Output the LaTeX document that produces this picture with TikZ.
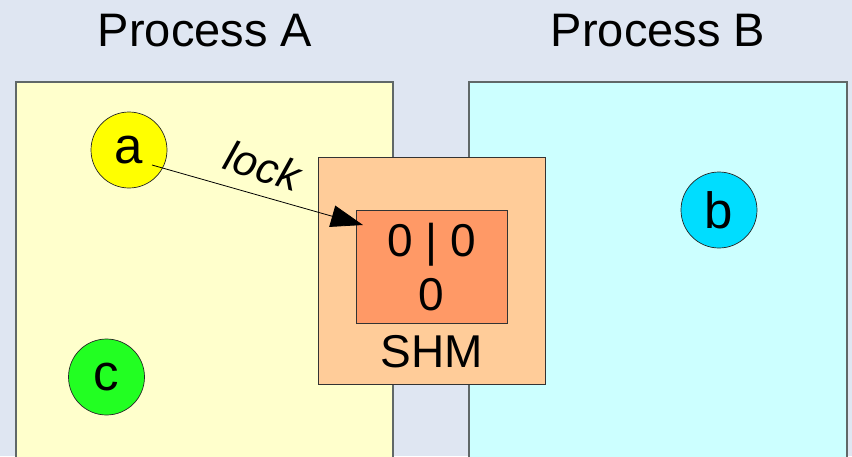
\documentclass[tikz,border=0pt]{standalone}
\usepackage{fontspec}
\setmainfont{Liberation Sans}
\usetikzlibrary{arrows.meta}

\definecolor{bgcol}{HTML}{DFE6F2}
\definecolor{procA}{HTML}{FFFFCC}
\definecolor{procB}{HTML}{CCFFFF}
\definecolor{shmouter}{HTML}{FFCC99}
\definecolor{shminner}{HTML}{FF9966}
\definecolor{nodeA}{HTML}{FFFF00}
\definecolor{nodeB}{HTML}{00DDFF}
\definecolor{nodeC}{HTML}{22FF22}
\definecolor{edgegray}{HTML}{606868}

\tikzset{
  procbox/.style={draw=edgegray, line width=1.3pt},
  shmbox/.style={draw=black!80, line width=0.8pt, rectangle, inner sep=0pt},
  proc/.style={circle, draw=black!85, line width=0.7pt, minimum size=76pt, inner sep=0pt,
    font=\fontsize{51}{51}\selectfont},
  title/.style={font=\fontsize{47}{47}\selectfont, inner sep=0pt},
  lbl/.style={font=\fontsize{46}{54}\selectfont, inner sep=0pt, align=center},
}

\begin{document}
\begin{tikzpicture}[x=1pt, y=-1pt]
  \useasboundingbox (0,0) rectangle (852,456);
  \clip (0,0) rectangle (852,456);
  \fill[bgcol] (0,0) rectangle (852,456);

  % the two process address spaces
  \draw[procbox, fill=procA] (16,470) -- (16,82) -- (393,82) -- (393,470);
  \draw[procbox, fill=procB] (469,470) -- (469,82) -- (847,82) -- (847,470);

  % titles
  \node[title] (titleA) at (205,31) {Process A};
  \node[title] (titleB) at (658,31) {Process B};

  % shared memory segment
  \node[shmbox, fill=shmouter, minimum width=227pt, minimum height=227pt] (shm) at (431.5,270.5) {};
  \node[shmbox, fill=shminner, minimum width=151pt, minimum height=113pt] (inner) at (431.5,266.5) {};
  \node[lbl] (val) at (431.5,267) {0 | 0\\0};
  \node[lbl] (shmlbl) at (431.5,352) {SHM};

  % processes
  \node[proc, fill=nodeA] (a) at (129,150) {a};
  \node[proc, fill=nodeB] (b) at (719,210) {b};
  \node[proc, fill=nodeC] (c) at (106.5,377) {c};

  % lock request from a into the shared memory
  \coordinate (lockfrom) at (152,165);
  \coordinate (lockto) at (363,225);
  \draw[line width=0.8pt, -{Triangle[length=32pt, width=22pt]}] (lockfrom) -- (lockto);
  \node[font=\fontsize{43}{43}\selectfont\itshape, rotate=-18, inner sep=0pt] (lock) at (263,166) {lock};
\end{tikzpicture}
\end{document}
